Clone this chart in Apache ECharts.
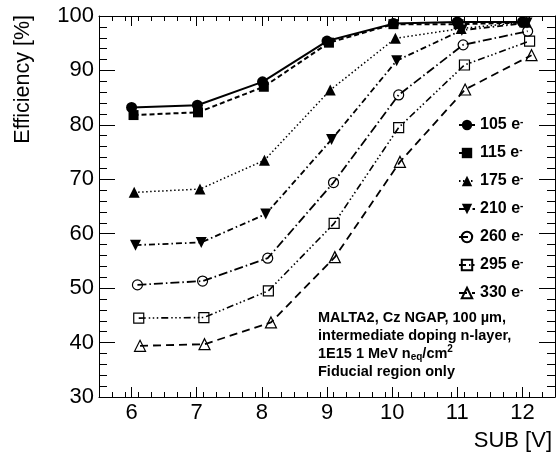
<!DOCTYPE html>
<html>
<head>
<meta charset="utf-8">
<script src="https://cdn.jsdelivr.net/npm/echarts@6/dist/echarts.min.js"></script>
<style>
  html, body { margin: 0; padding: 0; background: #fff; }
  #chart { width: 556px; height: 466px; }
</style>
</head>
<body>
<div id="chart"></div>
<script>
// thresholds (legend) and measured points, x slightly shifted per series like in the plot
var thresholds = ["105", "115", "175", "210", "260", "295", "330"];

var x105 = [6.0, 7.01, 8.01, 9.0, 10.02, 11.0, 12.0];
var y105 = [83.2, 83.6, 87.9, 95.4, 98.6, 98.9, 98.9];
var x115 = [6.03, 7.02, 8.03, 9.03, 10.02, 11.02, 12.03];
var y115 = [81.8, 82.3, 87.0, 95.1, 98.5, 98.5, 98.8];
var x175 = [6.04, 7.05, 8.04, 9.05, 10.05, 11.06, 12.06];
var y175 = [67.6, 68.2, 73.5, 86.4, 95.9, 97.7, 98.9];
var x210 = [6.06, 7.07, 8.06, 9.07, 10.07, 11.07, 12.07];
var y210 = [57.9, 58.4, 63.6, 77.3, 91.8, 97.4, 98.7];
var x260 = [6.09, 7.09, 8.09, 9.1, 10.1, 11.09, 12.08];
var y260 = [50.6, 51.3, 55.5, 69.4, 85.5, 94.7, 97.2];
var x295 = [6.11, 7.11, 8.1, 9.11, 10.1, 11.11, 12.11];
var y295 = [44.5, 44.6, 49.5, 61.9, 79.5, 91.0, 95.4];
var x330 = [6.13, 7.12, 8.14, 9.12, 10.12, 11.12, 12.14];
var y330 = [39.4, 39.7, 43.7, 55.7, 73.2, 86.5, 92.8];

var xTicks = [6, 7, 8, 9, 10, 11, 12];
var yTickStep = 10;

var FONT = "Liberation Sans";
var BLACK = "#000";

function pairs(xs, ys) {
  return xs.map(function(x, i) {
    return [x, ys[i]];
  });
}

// minor ticks every 0.2 on x
var xMinor = [];
for (var k = 0; k <= 35; k++) {
  var v = Math.round((5.5 + k * 0.2) * 10) / 10;
  if (xTicks.indexOf(v) < 0) xMinor.push(v);
}

var filled = { color: BLACK, borderWidth: 0 };
var hollow = { color: "rgba(0,0,0,0)", borderColor: BLACK, borderWidth: 1.2 };

var styles = [
  { data: pairs(x105, y105), symbol: "circle", size: 11, item: filled, dash: "solid", width: 2 },
  { data: pairs(x115, y115), symbol: "rect", size: 10, item: filled, dash: [5, 3], width: 2 },
  { data: pairs(x175, y175), symbol: "triangle", size: 11, item: filled, dash: [1.5, 2.5], width: 1.5 },
  { data: pairs(x210, y210), symbol: "triangle", rotate: 180, size: 11, item: filled, dash: [6, 3, 1.5, 3], width: 1.8 },
  { data: pairs(x260, y260), symbol: "circle", size: 10, item: hollow, dash: [9, 3, 1.5, 3], width: 1.8 },
  { data: pairs(x295, y295), symbol: "rect", size: 10, item: hollow, dash: [7, 3, 1.5, 2.5, 1.5, 2.5, 1.5, 3], width: 1.6 },
  { data: pairs(x330, y330), symbol: "triangle", size: 11, item: hollow, dash: [8, 5], width: 1.8 }
];

var series = [];
for (var i = 0; i < thresholds.length; i++) {
  var s = styles[i];
  series.push({
    name: thresholds[i],
    type: "line",
    xAxisIndex: 0,
    yAxisIndex: 0,
    data: s.data,
    symbol: s.symbol,
    symbolSize: s.size,
    symbolRotate: s.rotate || 0,
    itemStyle: s.item,
    lineStyle: { color: BLACK, width: s.width, type: s.dash },
    emphasis: { disabled: true },
    z: 10 - i
  });
}

var tickLine = { color: BLACK, width: 1 };

function xAxisDef(pos, values, len, withLine, withLabel) {
  return {
    type: "value",
    position: pos,
    min: 5.5,
    max: 12.5,
    axisLine: { show: withLine, onZero: false, lineStyle: tickLine },
    axisTick: { show: true, inside: true, length: len, customValues: values, lineStyle: tickLine },
    axisLabel: {
      show: withLabel,
      customValues: xTicks,
      color: BLACK,
      fontFamily: FONT,
      fontSize: 22,
      margin: 5
    },
    splitLine: { show: false }
  };
}

function yAxisDef(pos, withLabel) {
  return {
    type: "value",
    position: pos,
    min: 30,
    max: 100,
    interval: yTickStep,
    axisLine: { show: true, onZero: false, lineStyle: tickLine },
    axisTick: { show: true, inside: true, length: 16, lineStyle: tickLine },
    minorTick: { show: true, splitNumber: 5, length: 8, lineStyle: tickLine },
    axisLabel: {
      show: withLabel,
      color: BLACK,
      fontFamily: FONT,
      fontSize: 22,
      margin: 5
    },
    splitLine: { show: false },
    minorSplitLine: { show: false }
  };
}

var myChart = echarts.init(document.getElementById("chart"));
var option = {
  animation: false,
  backgroundColor: "#fff",
  grid: {
    left: 99,
    right: 1,
    top: 16,
    bottom: 69,
    containLabel: false
  },
  xAxis: [
    xAxisDef("bottom", xTicks, 10, true, true),
    xAxisDef("bottom", xMinor, 5, false, false),
    xAxisDef("top", xTicks, 10, true, false),
    xAxisDef("top", xMinor, 5, false, false)
  ],
  yAxis: [yAxisDef("left", true), yAxisDef("right", false)],
  legend: {
    orient: "vertical",
    left: 458,
    top: 117,
    padding: 0,
    itemWidth: 16,
    itemHeight: 13,
    itemGap: 12,
    selectedMode: false,
    data: thresholds,
    formatter: function(name) {
      return "{t|" + name + " e}{s|-}";
    },
    textStyle: {
      color: BLACK,
      rich: {
        t: { fontFamily: FONT, fontWeight: "bold", fontSize: 16, lineHeight: 16, color: BLACK },
        s: { fontFamily: FONT, fontWeight: "bold", fontSize: 10, lineHeight: 16, verticalAlign: "top", color: BLACK }
      }
    }
  },
  graphic: [
    {
      type: "text",
      left: 318,
      top: 310,
      style: {
        text:
          "{a|MALTA2, Cz NGAP, 100 µm,}\n{a|intermediate doping n-layer,}\n{a|1E15 1 MeV n}{sub|eq}{a|/cm}{sup|2}\n{a|Fiducial region only}",
        fill: BLACK,
        rich: {
          a: { fontFamily: FONT, fontWeight: "bold", fontSize: 14.5, lineHeight: 18, fill: BLACK },
          sub: { fontFamily: FONT, fontWeight: "bold", fontSize: 10, lineHeight: 18, verticalAlign: "bottom", fill: BLACK },
          sup: { fontFamily: FONT, fontWeight: "bold", fontSize: 10, lineHeight: 18, verticalAlign: "top", fill: BLACK }
        }
      }
    },
    {
      type: "text",
      x: 23,
      y: 15,
      rotation: Math.PI / 2,
      style: {
        text: "Efficiency [%]",
        fill: BLACK,
        fontFamily: FONT,
        fontSize: 21.5,
        align: "right",
        verticalAlign: "middle"
      }
    },
    {
      type: "text",
      x: 552,
      y: 441,
      style: {
        text: "SUB [V]",
        fill: BLACK,
        fontFamily: FONT,
        fontSize: 22,
        align: "right",
        verticalAlign: "middle"
      }
    }
  ],
  series: series
};
myChart.setOption(option);
</script>
</body>
</html>
